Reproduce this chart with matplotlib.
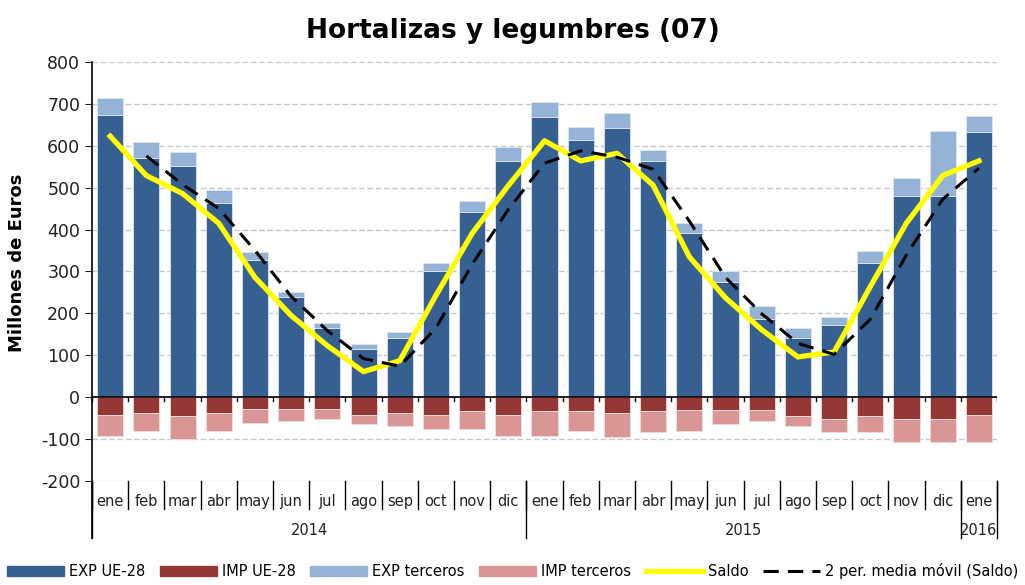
import numpy as np
import pandas as pd
import matplotlib
matplotlib.use("Agg")
import matplotlib.pyplot as plt
import matplotlib.transforms as mtransforms
from matplotlib.patches import Patch
from matplotlib.lines import Line2D

# Data (millones de euros), ene 2014 - ene 2016
months = ["ene", "feb", "mar", "abr", "may", "jun", "jul", "ago", "sep", "oct", "nov", "dic",
          "ene", "feb", "mar", "abr", "may", "jun", "jul", "ago", "sep", "oct", "nov", "dic",
          "ene"]
years = ["2014", "2015", "2016"]
year_sizes = [12, 12, 1]

exp_ue = [673, 571, 552, 464, 328, 240, 165, 114, 142, 301, 442, 564,
          669, 613, 643, 564, 392, 275, 187, 142, 173, 321, 481, 481, 632]
exp_terc = [42, 38, 34, 31, 19, 12, 11, 12, 14, 19, 26, 33,
            35, 31, 35, 26, 23, 27, 31, 23, 19, 27, 42, 155, 39]
imp_ue = [-42, -38, -45, -38, -27, -27, -27, -42, -38, -42, -34, -42,
          -34, -34, -38, -34, -30, -30, -30, -45, -53, -45, -53, -53, -42]
imp_terc = [-50, -42, -55, -42, -34, -30, -26, -23, -31, -35, -43, -50,
            -58, -46, -58, -50, -50, -35, -27, -24, -31, -39, -54, -54, -65]

C_EXP_UE = "#376092"
C_IMP_UE = "#953735"
C_EXP_T = "#95b3d7"
C_IMP_T = "#da9694"

df = pd.DataFrame({"exp_ue": exp_ue, "exp_terc": exp_terc, "imp_ue": imp_ue, "imp_terc": imp_terc})
df["saldo"] = df.sum(axis=1)
df["media"] = df["saldo"].rolling(2).mean()

plt.rcParams["font.family"] = ["DejaVu Sans"]
plt.rcParams["axes.unicode_minus"] = False

fig = plt.figure(figsize=(10.25, 5.85), dpi=100)
ax = fig.add_axes([0.0898, 0.1778, 0.8829, 0.7162])

x = np.arange(len(months))
w = 0.72
ax.bar(x, df["exp_ue"], w, color=C_EXP_UE, edgecolor="#dce6f2", linewidth=0.6, zorder=2)
ax.bar(x, df["exp_terc"], w, bottom=df["exp_ue"], color=C_EXP_T, edgecolor="#dce6f2", linewidth=0.6, zorder=2)
ax.bar(x, df["imp_ue"], w, color=C_IMP_UE, edgecolor="#f2dcdb", linewidth=0.6, zorder=2)
ax.bar(x, df["imp_terc"], w, bottom=df["imp_ue"], color=C_IMP_T, edgecolor="#f2dcdb", linewidth=0.6, zorder=2)

ax.plot(x, df["saldo"], color="#ffff00", linewidth=3.8, zorder=4, solid_joinstyle="round")
ax.plot(x, df["media"], color="black", linewidth=2.2, dashes=(5, 3), zorder=5)

ax.set_xlim(-0.5, len(months) - 0.5)
ax.set_ylim(-200, 800)
ax.set_yticks(np.arange(-200, 801, 100))
ax.tick_params(axis="y", labelsize=12.5, length=5, colors="#222222", labelcolor="#222222")
ax.set_xticks([])
ax.yaxis.grid(True, linestyle=(0, (4, 2)), color="#c8c8c8", linewidth=1)
ax.set_axisbelow(True)
for s in ["top", "right", "bottom", "left"]:
    ax.spines[s].set_visible(False)

# zero line with small ticks at category boundaries
ax.axhline(0, color="black", linewidth=1.2, zorder=3)
trans = mtransforms.blended_transform_factory(ax.transData, ax.transAxes)
for b in np.arange(-0.5, len(months)):
    ax.plot([b, b], [0, -10], color="black", linewidth=1, zorder=3)

# multi-level category axis
bounds = np.arange(-0.5, len(months) + 0.5)
year_bounds = np.concatenate([[-0.5], np.cumsum(year_sizes) - 0.5])
for b in bounds:
    ax.plot([b, b], [0, -0.066], transform=trans, color="black", linewidth=1, clip_on=False)
for b in year_bounds:
    ax.plot([b, b], [0, -0.136], transform=trans, color="black", linewidth=1, clip_on=False)
ax.plot([-0.5, -0.5], [1, -0.136], transform=trans, color="black", linewidth=1.2, clip_on=False)
for i, m in enumerate(months):
    ax.text(i, -0.048, m, transform=trans, ha="center", va="center", fontsize=10.5, color="#222222")
for yr, a, b in zip(years, year_bounds[:-1], year_bounds[1:]):
    ax.text((a + b) / 2, -0.117, yr, transform=trans, ha="center", va="center", fontsize=10.5, color="#222222")

ax.set_ylabel("Millones de Euros", fontsize=13, fontweight="bold")
ax.yaxis.set_label_coords(-0.073, 0.52)
fig.suptitle("Hortalizas y legumbres (07)", fontsize=19, fontweight="bold", y=0.97)

handles = [Patch(color=C_EXP_UE), Patch(color=C_IMP_UE), Patch(color=C_EXP_T), Patch(color=C_IMP_T),
           Line2D([], [], color="#ffff00", linewidth=3.8),
           Line2D([], [], color="black", linewidth=2.2, dashes=(5, 3))]
labels = ["EXP UE-28", "IMP UE-28", "EXP terceros", "IMP terceros", "Saldo", "2 per. media móvil (Saldo)"]
fig.legend(handles, labels, loc="lower center", bbox_to_anchor=(0.5, -0.012), ncol=6, frameon=False,
           fontsize=10.5, handlelength=3.9, handleheight=0.7, handletextpad=0.35, columnspacing=1.0)

fig.savefig("out.png", dpi=100)
